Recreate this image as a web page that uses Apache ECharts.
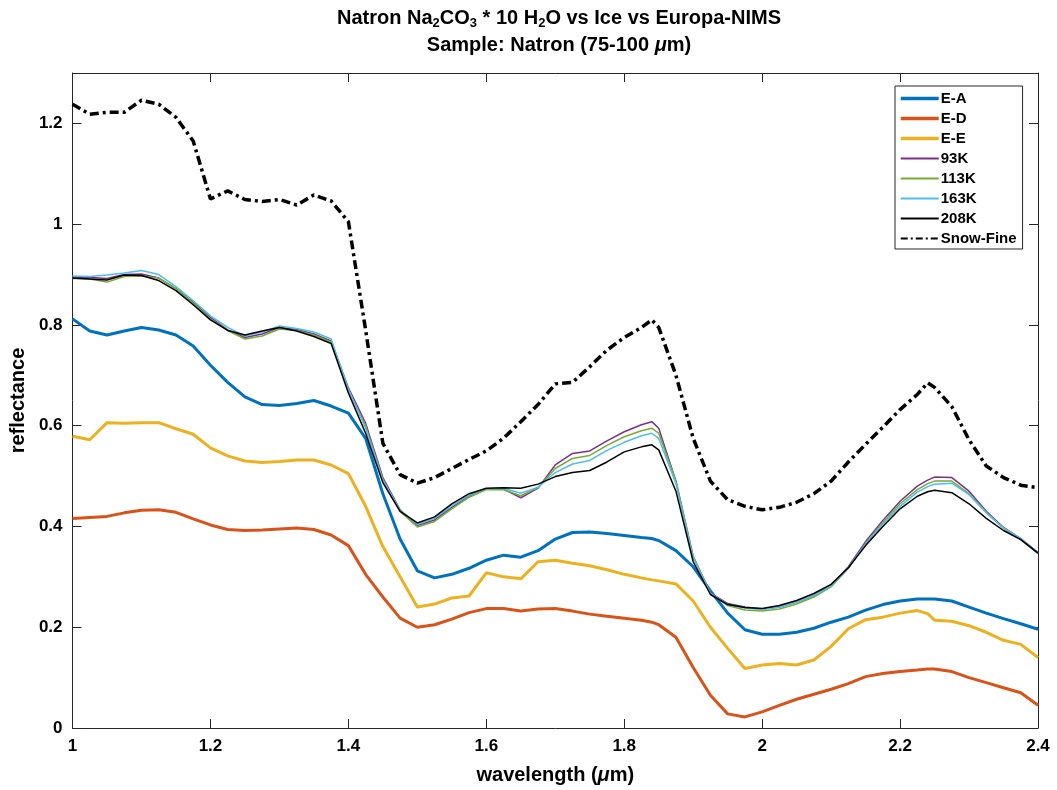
<!DOCTYPE html>
<html>
<head>
<meta charset="utf-8">
<script src="https://cdn.jsdelivr.net/npm/echarts/dist/echarts.min.js"></script>
<style>
  html, body { margin: 0; padding: 0; background: #fff; }
  #chart { width: 1057px; height: 790px; }
</style>
</head>
<body>
<div id="chart"></div>
<script>
// ---------------- DATA ----------------
const wavelength = [1.000,1.025,1.050,1.075,1.100,1.125,1.150,1.175,1.200,1.225,1.250,1.275,1.300,1.325,1.350,1.375,1.400,1.425,1.450,1.475,1.500,1.525,1.550,1.575,1.600,1.625,1.650,1.675,1.700,1.725,1.750,1.775,1.800,1.825,1.840,1.850,1.875,1.900,1.925,1.950,1.975,2.000,2.025,2.050,2.075,2.100,2.125,2.150,2.175,2.200,2.225,2.240,2.250,2.275,2.300,2.325,2.350,2.375,2.400];

const seriesNames = ['E-A','E-D','E-E','93K','113K','163K','208K','Snow-Fine'];

const EA = [0.812,0.788,0.780,0.788,0.795,0.790,0.780,0.758,0.720,0.686,0.657,0.642,0.640,0.644,0.650,0.639,0.625,0.575,0.465,0.375,0.312,0.298,0.305,0.317,0.333,0.343,0.339,0.352,0.375,0.388,0.389,0.386,0.382,0.378,0.376,0.372,0.352,0.320,0.272,0.228,0.195,0.186,0.186,0.190,0.198,0.210,0.220,0.234,0.245,0.252,0.256,0.256,0.256,0.252,0.240,0.228,0.217,0.207,0.196];

const ED = [0.416,0.418,0.420,0.427,0.432,0.433,0.428,0.415,0.403,0.394,0.392,0.393,0.395,0.397,0.394,0.383,0.362,0.305,0.260,0.218,0.200,0.205,0.216,0.229,0.237,0.237,0.232,0.236,0.237,0.232,0.226,0.222,0.218,0.214,0.210,0.205,0.180,0.120,0.065,0.028,0.022,0.032,0.045,0.057,0.067,0.077,0.088,0.102,0.108,0.112,0.115,0.117,0.117,0.112,0.100,0.090,0.080,0.070,0.045];

const EE = [0.579,0.572,0.606,0.605,0.606,0.606,0.594,0.583,0.556,0.540,0.530,0.527,0.529,0.532,0.532,0.522,0.505,0.440,0.360,0.300,0.240,0.246,0.258,0.262,0.308,0.300,0.296,0.330,0.333,0.327,0.322,0.314,0.305,0.298,0.294,0.292,0.286,0.252,0.200,0.158,0.118,0.125,0.128,0.125,0.135,0.162,0.197,0.215,0.220,0.228,0.233,0.227,0.214,0.212,0.203,0.190,0.174,0.166,0.140];

const K93 = [0.895,0.894,0.892,0.900,0.901,0.893,0.872,0.845,0.815,0.790,0.775,0.782,0.795,0.791,0.782,0.768,0.675,0.605,0.497,0.433,0.402,0.413,0.438,0.460,0.474,0.474,0.457,0.476,0.522,0.545,0.550,0.570,0.588,0.602,0.608,0.595,0.490,0.340,0.268,0.247,0.240,0.236,0.240,0.250,0.263,0.283,0.320,0.370,0.412,0.450,0.480,0.492,0.498,0.497,0.470,0.430,0.398,0.376,0.348];

const K113 = [0.892,0.891,0.885,0.896,0.897,0.893,0.872,0.843,0.812,0.789,0.772,0.778,0.792,0.789,0.780,0.766,0.670,0.600,0.493,0.430,0.399,0.410,0.435,0.458,0.473,0.473,0.461,0.477,0.515,0.535,0.541,0.561,0.578,0.590,0.595,0.585,0.490,0.340,0.267,0.243,0.234,0.232,0.236,0.246,0.260,0.280,0.317,0.366,0.408,0.445,0.473,0.485,0.490,0.490,0.465,0.428,0.396,0.374,0.347];

const K163 = [0.897,0.896,0.899,0.903,0.908,0.900,0.876,0.848,0.818,0.795,0.778,0.786,0.798,0.793,0.786,0.772,0.672,0.595,0.492,0.432,0.404,0.416,0.441,0.462,0.475,0.476,0.466,0.478,0.507,0.524,0.531,0.551,0.567,0.580,0.585,0.575,0.485,0.338,0.267,0.245,0.238,0.235,0.240,0.250,0.263,0.282,0.318,0.365,0.405,0.440,0.468,0.479,0.484,0.486,0.463,0.427,0.397,0.376,0.346];

const K208 = [0.893,0.891,0.889,0.899,0.898,0.888,0.868,0.840,0.810,0.789,0.780,0.788,0.795,0.788,0.777,0.763,0.665,0.585,0.487,0.430,0.407,0.419,0.445,0.465,0.476,0.477,0.476,0.484,0.499,0.507,0.511,0.528,0.548,0.558,0.562,0.552,0.470,0.330,0.265,0.245,0.239,0.237,0.243,0.253,0.267,0.285,0.318,0.362,0.400,0.435,0.460,0.469,0.472,0.467,0.445,0.416,0.392,0.374,0.347];

const SnowFine = [1.238,1.218,1.222,1.222,1.246,1.238,1.212,1.165,1.050,1.066,1.049,1.045,1.049,1.038,1.058,1.046,1.005,0.790,0.565,0.503,0.486,0.497,0.515,0.533,0.550,0.575,0.608,0.642,0.683,0.686,0.717,0.750,0.775,0.795,0.810,0.795,0.700,0.575,0.490,0.453,0.440,0.433,0.438,0.448,0.465,0.490,0.528,0.563,0.597,0.632,0.662,0.685,0.676,0.638,0.572,0.520,0.497,0.482,0.477];

const xTicks = [1, 1.2, 1.4, 1.6, 1.8, 2, 2.2, 2.4];
const yTicks = [0, 0.2, 0.4, 0.6, 0.8, 1, 1.2];

// ---------------- STYLE ----------------
const colors = ['#0072BD','#D95319','#EDB120','#7E2F8E','#77AC30','#4DBEEE','#000000','#000000'];
const widths = [3, 3, 3, 1.5, 1.5, 1.5, 1.5, 3.5];
const legendWidths = [3.5, 3.5, 3.5, 2, 2, 2, 2, 2];
const allValues = [EA, ED, EE, K93, K113, K163, K208, SnowFine];
const FONT = '"Liberation Sans", Arial, Helvetica, sans-serif';
const AX = '#262626';
const snowDash = [9, 4, 3, 4];

const series = seriesNames.map((name, i) => ({
  name: name,
  type: 'line',
  data: wavelength.map((w, j) => [w, allValues[i][j]]),
  symbol: 'none',
  showSymbol: false,
  smooth: false,
  z: 2 + i,
  lineStyle: {
    color: colors[i],
    width: widths[i],
    type: name === 'Snow-Fine' ? snowDash : 'solid'
  },
  itemStyle: { color: colors[i] },
  emphasis: { disabled: true }
}));

const legendData = seriesNames.map((name, i) => ({
  name: name,
  itemStyle: { opacity: 0 },
  lineStyle: {
    color: colors[i],
    width: legendWidths[i],
    type: name === 'Snow-Fine' ? [7, 3, 2, 3] : 'solid'
  }
}));

function tickFmt(list) {
  return function (v) {
    for (const t of list) if (Math.abs(v - t) < 1e-6) return String(t);
    return '';
  };
}

const chart = echarts.init(document.getElementById('chart'), null, { renderer: 'canvas' });
const option = {
  animation: false,
  backgroundColor: '#ffffff',
  title: {
    left: 554,
    textAlign: 'center',
    top: 3,
    itemGap: 2,
    text: '{n|Natron Na}{s|2}{n|CO}{s|3}{n| * 10 H}{s|2}{n|O vs Ice vs Europa-NIMS}',
    subtext: '{n|Sample: Natron (75-100 }{i|μ}{n|m)}',
    textStyle: {
      rich: {
        n: { fontSize: 20, fontWeight: 'bold', fontFamily: FONT, color: '#000', lineHeight: 22, padding: [0, 0, 4, 0], verticalAlign: 'top' },
        s: { fontSize: 13, fontWeight: 'bold', fontFamily: FONT, color: '#000', lineHeight: 13, verticalAlign: 'bottom' }
      }
    },
    subtextStyle: {
      rich: {
        n: { fontSize: 20, fontWeight: 'bold', fontFamily: FONT, color: '#000', lineHeight: 22 },
        i: { fontSize: 20, fontWeight: 'bold', fontStyle: 'italic', fontFamily: FONT, color: '#000', lineHeight: 22 }
      }
    }
  },
  legend: {
    data: legendData,
    orient: 'vertical',
    left: 895,
    top: 86,
    padding: [5, 6, 3, 4],
    itemGap: 5,
    itemWidth: 38,
    itemHeight: 13,
    backgroundColor: '#ffffff',
    borderColor: AX,
    borderWidth: 1,
    borderRadius: 0,
    selectedMode: false,
    itemStyle: { opacity: 0 },
    textStyle: { fontSize: 15, fontWeight: 'bold', fontFamily: FONT, color: '#000', lineHeight: 13, padding: [0, 0, 0, -3] }
  },
  grid: { left: 70, right: 19, top: 73, bottom: 62, containLabel: false },
  xAxis: [
    {
      type: 'value', min: 1, max: 2.4, interval: 0.2,
      name: 'wavelength ({i|μ}m)', nameLocation: 'middle', nameGap: 37,
      nameTextStyle: {
        fontSize: 20, fontWeight: 'bold', fontFamily: FONT, color: '#000',
        rich: { i: { fontSize: 20, fontWeight: 'bold', fontStyle: 'italic', fontFamily: FONT, color: '#000' } }
      },
      axisLine: { show: true, onZero: false, lineStyle: { color: AX, width: 1 } },
      axisTick: { show: true, inside: true, length: 9, lineStyle: { color: AX } },
      axisLabel: { show: true, margin: 10, fontSize: 17, fontWeight: 'bold', fontFamily: FONT, color: '#000', formatter: tickFmt(xTicks) },
      splitLine: { show: false }
    },
    {
      type: 'value', min: 1, max: 2.4, interval: 0.2, position: 'top',
      axisLine: { show: true, onZero: false, lineStyle: { color: AX, width: 1 } },
      axisTick: { show: true, inside: true, length: 9, lineStyle: { color: AX } },
      axisLabel: { show: false },
      splitLine: { show: false }
    }
  ],
  yAxis: [
    {
      type: 'value', min: 0, max: 1.3, interval: 0.2,
      name: 'reflectance', nameLocation: 'middle', nameGap: 35, nameRotate: 90,
      nameTextStyle: { fontSize: 20, fontWeight: 'bold', fontFamily: FONT, color: '#000' },
      axisLine: { show: true, onZero: false, lineStyle: { color: AX, width: 1 } },
      axisTick: { show: true, inside: true, length: 9, lineStyle: { color: AX } },
      axisLabel: { show: true, margin: 10, fontSize: 17, fontWeight: 'bold', fontFamily: FONT, color: '#000', formatter: tickFmt(yTicks) },
      splitLine: { show: false }
    },
    {
      type: 'value', min: 0, max: 1.3, interval: 0.2, position: 'right',
      axisLine: { show: true, onZero: false, lineStyle: { color: AX, width: 1 } },
      axisTick: { show: true, inside: true, length: 9, lineStyle: { color: AX } },
      axisLabel: { show: false },
      splitLine: { show: false }
    }
  ],
  series: series
};
chart.setOption(option);
</script>
</body>
</html>
